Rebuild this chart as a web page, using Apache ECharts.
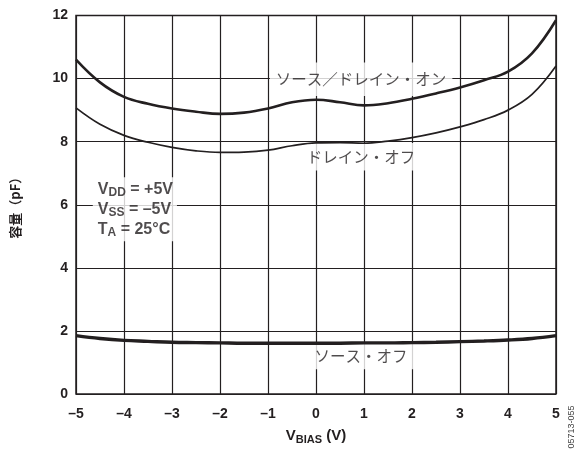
<!DOCTYPE html>
<html>
<head>
<meta charset="utf-8">
<script src="https://cdn.jsdelivr.net/npm/echarts@6/dist/echarts.min.js"></script>
<style>
  html, body { margin: 0; padding: 0; background: #fff; }
  #chart { width: 586px; height: 450px; }
</style>
</head>
<body>
<div id="chart"></div>
<script>
// Bias voltage samples (V)
const vBias = [-5, -4.5, -4, -3.5, -3, -2.5, -2, -1.5, -1, -0.5, 0, 0.5, 1, 1.5, 2, 2.5, 3, 3.5, 4, 4.5, 5];

// Capacitance (pF) per bias point
const sourceDrainOn = [10.6, 9.88, 9.42, 9.2, 9.05, 8.95, 8.88, 8.92, 9.05, 9.25, 9.33, 9.25, 9.15, 9.22, 9.36, 9.53, 9.72, 9.95, 10.22, 10.8, 11.85];
const drainOff      = [9.07, 8.55, 8.2, 7.98, 7.82, 7.71, 7.66, 7.67, 7.73, 7.87, 7.96, 7.97, 7.95, 8.02, 8.13, 8.28, 8.47, 8.7, 9.0, 9.5, 10.4];
const sourceOff     = [1.85, 1.76, 1.7, 1.67, 1.64, 1.63, 1.62, 1.61, 1.61, 1.61, 1.61, 1.61, 1.62, 1.62, 1.63, 1.64, 1.66, 1.68, 1.71, 1.76, 1.85];

// Curve names and axis text
const curveNames = ['ソース／ドレイン・オン', 'ドレイン・オフ', 'ソース・オフ'];
const xTicks = [-5, -4, -3, -2, -1, 0, 1, 2, 3, 4, 5];
const yTicks = [0, 2, 4, 6, 8, 10, 12];

const INK = '#231f20';
const pairs = (ys) => vBias.map((x, i) => [x, ys[i]]);

const chart = echarts.init(document.getElementById('chart'), null, { renderer: 'canvas' });

// Caption on a white box that masks the grid lines behind it
const curveLabel = (name, x, y, padding) => ({
  value: [x, y],
  label: {
    show: true,
    position: 'inside',
    formatter: name,
    fontFamily: '"Noto Sans CJK JP", sans-serif',
    fontSize: 15.5,
    color: INK,
    backgroundColor: '#fff',
    padding: padding
  }
});

const option = {
  backgroundColor: '#fff',
  animation: false,
  grid: {
    left: 76, right: 30, top: 15.5, bottom: 52,
    show: true, borderColor: INK, borderWidth: 1.5, backgroundColor: 'transparent'
  },
  xAxis: {
    type: 'value',
    min: xTicks[0], max: xTicks[xTicks.length - 1], interval: 1,
    name: '{v|V}{s|BIAS}{v| (V)}',
    nameLocation: 'middle',
    nameGap: 33,
    nameTextStyle: {
      rich: {
        v: { fontFamily: 'Liberation Sans, Arial', fontWeight: 'bold', fontSize: 15, color: INK },
        s: { fontFamily: 'Liberation Sans, Arial', fontWeight: 'bold', fontSize: 11, color: INK, padding: [7, 0, 0, 0] }
      }
    },
    axisLine: { show: false },
    axisTick: { show: false },
    axisLabel: {
      margin: 13,
      fontFamily: 'Liberation Sans, Arial', fontWeight: 'bold', fontSize: 14, color: INK,
      formatter: (v) => String(v).replace('-', '\u2013')
    },
    splitLine: { show: true, lineStyle: { color: INK, width: 1.2 } }
  },
  yAxis: {
    type: 'value',
    min: yTicks[0], max: yTicks[yTicks.length - 1], interval: 2,
    name: '容量（pF）',
    nameLocation: 'middle',
    nameRotate: 90,
    nameGap: 54,
    nameTextStyle: {
      fontFamily: '"Noto Sans CJK JP", sans-serif', fontWeight: 'bold', fontSize: 13, color: INK
    },
    axisLine: { show: false },
    axisTick: { show: false },
    axisLabel: {
      margin: 8,
      fontFamily: 'Liberation Sans, Arial', fontWeight: 'bold', fontSize: 14, color: INK
    },
    splitLine: { show: true, lineStyle: { color: INK, width: 1.2 } }
  },
  series: [
    {
      name: curveNames[0], type: 'line', smooth: 0.4, showSymbol: false, z: 5,
      data: pairs(sourceDrainOn),
      lineStyle: { color: INK, width: 2.6 }
    },
    {
      name: curveNames[1], type: 'line', smooth: 0.4, showSymbol: false, z: 5,
      data: pairs(drainOff),
      lineStyle: { color: INK, width: 1.7 }
    },
    {
      name: curveNames[2], type: 'line', smooth: 0.4, showSymbol: false, z: 5,
      data: pairs(sourceOff),
      lineStyle: { color: INK, width: 3.4 }
    },
    {
      // Curve captions and test conditions
      type: 'scatter', symbolSize: 0, z: 3, silent: true,
      data: [
        curveLabel(curveNames[0], 0.94, 9.98, [9, 6, 9, 6]),
        curveLabel(curveNames[1], 0.94, 7.52, [6, 10, 6, 10]),
        curveLabel(curveNames[2], 0.94, 1.19, [5, 8, 5, 8]),
        {
          value: [-4.65, 5.86],
          label: {
            show: true,
            position: 'inside',
            align: 'left',
            verticalAlign: 'middle',
            backgroundColor: '#fff',
            padding: [2, 4, 2, 5],
            formatter: '{v|V}{s|DD}{v| = +5V}\n{v|V}{s|SS}{v| = \u20135V}\n{v|T}{s|A}{v| = 25°C}',
            rich: {
              v: { fontFamily: 'Liberation Sans, Arial', fontWeight: 'bold', fontSize: 16, color: INK, lineHeight: 20 },
              s: { fontFamily: 'Liberation Sans, Arial', fontWeight: 'bold', fontSize: 12, color: INK, lineHeight: 20, padding: [8, 0, 0, 0] }
            }
          }
        }
      ]
    }
  ],
  graphic: [
    {
      type: 'text',
      x: 572, y: 427, rotation: Math.PI / 2,
      style: {
        text: '05713-055',
        fontFamily: 'Liberation Sans, Arial', fontSize: 9, fill: '#444',
        align: 'center', verticalAlign: 'middle'
      }
    }
  ]
};

chart.setOption(option);
</script>
</body>
</html>
